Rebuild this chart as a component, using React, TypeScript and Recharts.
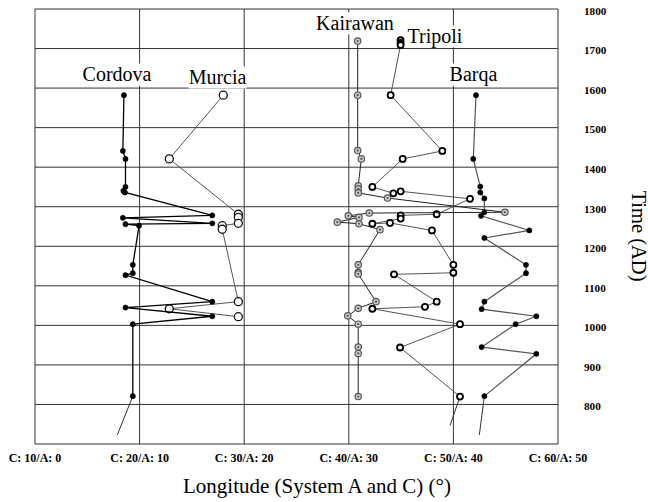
import React from 'react';
import { ScatterChart, Scatter, XAxis, YAxis, CartesianGrid, ReferenceDot } from 'recharts';

// Longitude values use System C on the axis; System A is C minus 10.
const cLongitudes = [10, 20, 30, 40, 50, 60];
const aLongitudes = [0, 10, 20, 30, 40, 50];
const yearTicks = [700, 800, 900, 1000, 1100, 1200, 1300, 1400, 1500, 1600, 1700, 1800];
const yearTickLabels = [800, 900, 1000, 1100, 1200, 1300, 1400, 1500, 1600, 1700, 1800];

// Each city's track: [longitude (System C), year AD], in drawing order.
const cordova = [
  [18.5, 1582], [18.4, 1441], [18.65, 1421], [18.65, 1350], [18.45, 1340], [18.6, 1336],
  [26.95, 1278], [18.4, 1272], [26.95, 1258], [18.65, 1256], [19.95, 1252],
  [19.35, 1153], [19.35, 1132], [18.65, 1127], [26.95, 1060], [18.65, 1045],
  [26.95, 1023], [19.35, 1003], [19.35, 821],
];
const cordovaTail = [[19.35, 821], [17.87, 723]];

const murcia = [
  [28.0, 1582], [22.84, 1421], [29.44, 1281], [29.44, 1273], [29.44, 1258],
  [27.9, 1252], [27.9, 1243], [29.44, 1060], [22.84, 1042], [29.44, 1022],
];

const kairawan = [
  [40.85, 1719], [40.85, 1582], [40.85, 1442], [41.2, 1421], [40.9, 1353], [40.9, 1345],
  [40.9, 1335], [43.7, 1322], [54.93, 1286], [41.96, 1284], [39.95, 1277], [40.97, 1273],
  [38.9, 1261], [40.97, 1257], [42.98, 1242], [40.9, 1153], [40.9, 1134], [40.9, 1130],
  [42.6, 1060], [40.9, 1043], [39.9, 1024], [40.9, 1003], [40.9, 945], [40.9, 929], [40.9, 820],
];

const tripoli = [
  [44.95, 1721], [44.95, 1714], [44.95, 1709], [44.0, 1582], [48.94, 1441], [45.15, 1421],
  [42.25, 1350], [44.26, 1334], [44.96, 1339], [51.59, 1320], [48.4, 1281], [44.96, 1278],
  [44.96, 1270], [42.25, 1257], [43.94, 1259], [47.95, 1240], [50.0, 1153], [50.0, 1133],
  [44.32, 1129], [48.4, 1060], [47.28, 1047], [42.25, 1042], [50.63, 1003], [44.9, 944], [50.63, 820],
];
const tripoliTail = [[50.63, 820], [49.68, 747]];

const barqa = [
  [52.16, 1582], [51.9, 1421], [52.57, 1351], [52.57, 1336], [52.96, 1321], [52.96, 1286],
  [52.64, 1277], [57.26, 1240], [52.96, 1221], [56.94, 1153], [56.94, 1132], [52.96, 1060],
  [52.7, 1041], [57.93, 1023], [55.95, 1003], [52.7, 945], [57.93, 928], [52.96, 821],
];
const barqaTail = [[52.96, 821], [52.48, 723]];

// City name annotations, anchored at the text baseline centre.
const cityLabels = [
  { text: 'Cordova', lon: 17.84, year: 1617 },
  { text: 'Murcia', lon: 27.45, year: 1610 },
  { text: 'Kairawan', lon: 40.59, year: 1747 },
  { text: 'Tripoli', lon: 48.24, year: 1714 },
  { text: 'Barqa', lon: 51.92, year: 1617 },
];

const toPoints = (arr: number[][]) => arr.map(([x, y]) => ({ x, y }));

const SERIF = '"Liberation Serif", "Times New Roman", serif';
const LABEL_SIZE = 20;

let measureCtx: CanvasRenderingContext2D | null = null;
function measure(text: string, font: string): number {
  if (!measureCtx) measureCtx = document.createElement('canvas').getContext('2d');
  if (!measureCtx) return text.length * 10;
  measureCtx.font = font;
  return measureCtx.measureText(text).width;
}

const filledDot = (props: any) => (
  <circle cx={props.cx} cy={props.cy} r={2.6} fill="#000" stroke="#000" strokeWidth={0.5} />
);
const largeRing = (props: any) => (
  <circle cx={props.cx} cy={props.cy} r={4} fill="#fff" stroke="#111" strokeWidth={1.3} />
);
const boldRing = (props: any) => (
  <circle cx={props.cx} cy={props.cy} r={3} fill="#fff" stroke="#000" strokeWidth={1.8} />
);
const greyTarget = (props: any) => (
  <g>
    <circle cx={props.cx} cy={props.cy} r={3.2} fill="#ccc" stroke="#555" strokeWidth={1.2} />
    <circle cx={props.cx} cy={props.cy} r={1.1} fill="#555" />
  </g>
);
const noMarker = () => <g />;

const XTick = (props: any) => {
  const { x, y, index } = props;
  return (
    <text x={x} y={y + 17.5} textAnchor="middle" fontFamily={SERIF} fontWeight="bold" fontSize={12} fill="#000">
      {`C: ${cLongitudes[index]}/A: ${aLongitudes[index]}`}
    </text>
  );
};

const YTick = (props: any) => {
  const { x, y, payload } = props;
  if (!yearTickLabels.includes(payload.value)) return <g />;
  return (
    <text x={x} y={y + 5.8} textAnchor="start" fontFamily={SERIF} fontWeight="bold" fontSize={11.2} fill="#000">
      {payload.value}
    </text>
  );
};

const CityLabel = ({ cx, cy, text }: { cx: number; cy: number; text: string }) => {
  const w = measure(text, `${LABEL_SIZE}px ${SERIF}`);
  return (
    <g>
      <rect x={cx - w / 2} y={cy - LABEL_SIZE * 0.89} width={w} height={LABEL_SIZE * 1.11} fill="#fff" />
      <text x={cx} y={cy} textAnchor="middle" fontFamily={SERIF} fontSize={LABEL_SIZE} fill="#000">
        {text}
      </text>
    </g>
  );
};

export default function App() {
  return (
    <div style={{ position: 'absolute', left: 0, top: 0, width: 648, height: 502, background: '#fff' }}>
      <ScatterChart width={648} height={502} margin={{ top: 9, left: 35, right: 0, bottom: 0 }}>
        <CartesianGrid stroke="#333" strokeWidth={1} />
        <XAxis
          type="number"
          dataKey="x"
          domain={[10, 60]}
          ticks={cLongitudes}
          interval={0}
          height={58}
          axisLine={false}
          tickLine={false}
          tickSize={0}
          tickMargin={0}
          tick={<XTick />}
        />
        <YAxis
          type="number"
          dataKey="y"
          orientation="right"
          domain={[700, 1800]}
          ticks={yearTicks}
          interval={0}
          width={90}
          axisLine={false}
          tickLine={false}
          tickSize={0}
          tickMargin={26}
          tick={<YTick />}
        />
        {cityLabels.map((l) => (
          <ReferenceDot
            key={l.text}
            x={l.lon}
            y={l.year}
            r={0}
            shape={(p: any) => <CityLabel cx={p.cx} cy={p.cy} text={l.text} />}
          />
        ))}
        <Scatter data={toPoints(barqaTail)} line={{ stroke: '#333', strokeWidth: 1 }} shape={noMarker} isAnimationActive={false} />
        <Scatter data={toPoints(barqa)} line={{ stroke: '#555', strokeWidth: 1.2 }} shape={filledDot} isAnimationActive={false} />
        <Scatter data={toPoints(tripoliTail)} line={{ stroke: '#333', strokeWidth: 1 }} shape={noMarker} isAnimationActive={false} />
        <Scatter data={toPoints(tripoli)} line={{ stroke: '#555', strokeWidth: 1 }} shape={boldRing} isAnimationActive={false} />
        <Scatter data={toPoints(kairawan)} line={{ stroke: '#222', strokeWidth: 1 }} shape={greyTarget} isAnimationActive={false} />
        <Scatter data={toPoints(murcia)} line={{ stroke: '#555', strokeWidth: 1 }} shape={largeRing} isAnimationActive={false} />
        <Scatter data={toPoints(cordovaTail)} line={{ stroke: '#333', strokeWidth: 1 }} shape={noMarker} isAnimationActive={false} />
        <Scatter data={toPoints(cordova)} line={{ stroke: '#000', strokeWidth: 1.3 }} shape={filledDot} isAnimationActive={false} />
        <text x={317} y={493} textAnchor="middle" fontFamily={SERIF} fontSize={21} fill="#000">
          Longitude (System A and C) (°)
        </text>
        <text
          x={0}
          y={0}
          transform="translate(631.5, 236) rotate(90)"
          textAnchor="middle"
          fontFamily={SERIF}
          fontSize={20.5}
          fill="#000"
        >
          Time (AD)
        </text>
      </ScatterChart>
    </div>
  );
}
